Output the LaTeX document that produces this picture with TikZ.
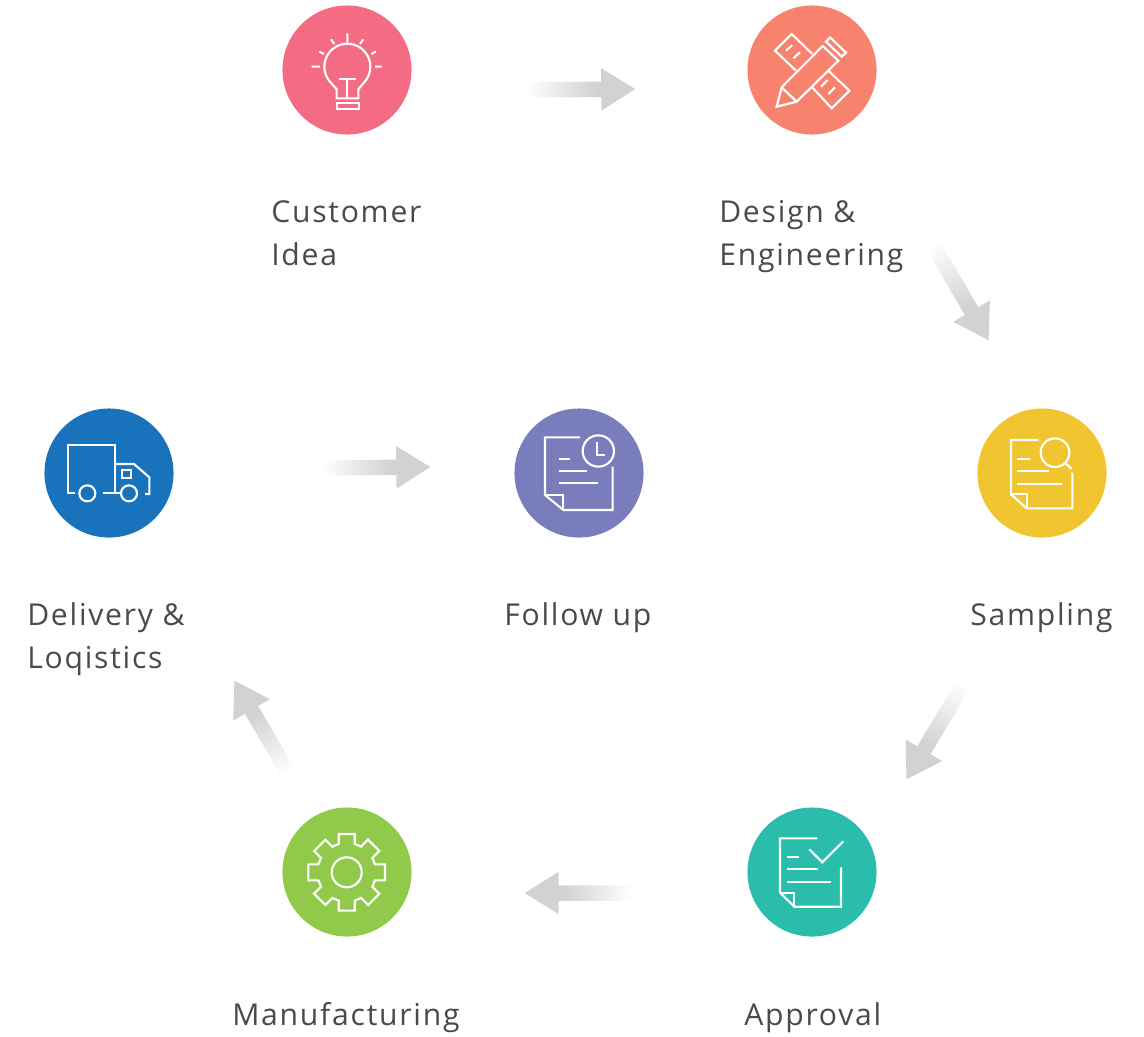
\documentclass[tikz,border=0pt]{standalone}
\usepackage{fontspec}
\setmainfont{Open Sans}[LetterSpace=5.8]
\usepackage{xcolor}
\usetikzlibrary{shapes.arrows}
\usetikzlibrary{calc}
\definecolor{ideapink}{HTML}{F36C84}
\definecolor{designsalmon}{HTML}{F7836F}
\definecolor{samplingyellow}{HTML}{F0C52F}
\definecolor{approvalteal}{HTML}{2ABDAB}
\definecolor{makinggreen}{HTML}{91CA4B}
\definecolor{deliveryblue}{HTML}{1872BC}
\definecolor{followpurple}{HTML}{797DBB}
\definecolor{labelgrey}{HTML}{4A4A4C}
\definecolor{arrowgrey}{HTML}{D0D2D3}
\pgfdeclarehorizontalshading{arrowfade}{100bp}{color(0bp)=(white); color(25bp)=(white); color(57bp)=(arrowgrey); color(100bp)=(arrowgrey)}
\tikzset{
  stepdot/.style={circle,minimum size=96.8pt,inner sep=0pt,outer sep=0pt},
  steptext/.style={text=labelgrey,anchor=north west,align=left,inner sep=0pt,font=\fontsize{22.6}{32.2}\selectfont},
  iconline/.style={draw=white,line width=1.6pt,x=.25pt,y=-.25pt},
  fadearrow/.style={single arrow,shade,shading=arrowfade,draw=none,inner xsep=0pt,inner ysep=5.6pt,outer sep=0pt,
    minimum width=31.5pt,single arrow head extend=10.1pt,single arrow tip angle=64,single arrow head indent=0pt}
}
\newcommand{\flowarrow}[2]{%
\path let \p1=($(#2)-(#1)$), \n1={atan2(\y1,\x1)}, \n2={veclen(\x1,\y1)} in
  \pgfextra{\xdef\arrowang{\n1}\xdef\arrowlen{\n2}};
\begin{scope}[transform canvas={shift={($(#1)!.5!(#2)$)},rotate=\arrowang}]
\node[fadearrow,minimum height=\arrowlen] (#1#2) at (-5.2pt,0pt) {};
\end{scope}}
\begin{document}
\begin{tikzpicture}[x=.75pt,y=-.75pt]
\useasboundingbox (0,0) rectangle (1144,1036);
% steps
\node[stepdot,fill=ideapink] (idea) at (347,70) {};
\node[stepdot,fill=designsalmon] (design) at (812,70) {};
\node[stepdot,fill=samplingyellow] (sampling) at (1042,473) {};
\node[stepdot,fill=approvalteal] (approval) at (812,872) {};
\node[stepdot,fill=makinggreen] (making) at (347,872) {};
\node[stepdot,fill=deliveryblue] (delivery) at (109,473) {};
\node[stepdot,fill=followpurple] (follow) at (579,473) {};
% labels
\node[steptext] (ideatext) at (271,200) {Customer\\Idea};
\node[steptext] (designtext) at (719,200) {Design \&\\Engineering};
\node[steptext] (samplingtext) at (970,602.5) {Sampling};
\node[steptext] (approvaltext) at (744,1002.5) {Approval};
\node[steptext] (makingtext) at (232,1002.5) {Manufacturing};
\node[steptext] (deliverytext) at (27,602.5) {Delivery \&\\Loqistics};
\node[steptext] (followtext) at (504,602.5) {Follow up};
% arrows
\coordinate (a1) at (527,90);   \coordinate (b1) at (636,89);
\coordinate (a2) at (933,245);  \coordinate (b2) at (989,341);
\coordinate (a3) at (963,685);  \coordinate (b3) at (906,780);
\coordinate (a4) at (631,893);  \coordinate (b4) at (524,893);
\coordinate (a5) at (288,772);  \coordinate (b5) at (234,680);
\coordinate (a6) at (323,468);  \coordinate (b6) at (431,467);
\foreach \k in {1,...,6} {\flowarrow{a\k}{b\k}}
% bulb
\begin{scope}[shift={(270,0)}]
\draw[iconline] (200,295)--(200,268)--(178,243) arc[start angle=141.5,end angle=398.5,radius=69]--(265,268)--(265,295)--cycle;
\draw[iconline] (200,308) rectangle (268,327);
\draw[iconline] (207,238)--(258,238) (232,238)--(232,295);
\draw[iconline] (232,100)--(232,128) (183,118)--(193,132) (280,118)--(270,132) (148,155)--(162,162) (318,155)--(304,162) (125,200)--(150,200) (315,200)--(335,200);
\end{scope}
% ruler and pencil
\begin{scope}[shift={(740,0)}]
\draw[iconline] (248,138)--(125,262)--(110,320)--(170,305)--(295,182)--cycle;
\draw[iconline] (125,262)--(170,305);
\draw[iconline] (258,125)--(270,112)--(318,158)--(305,170)--cycle;
\draw[iconline] (168,212)--(105,152)--(155,102)--(217,162);
\draw[iconline] (265,212)--(328,272)--(275,325)--(217,262);
\draw[iconline] (138,152)--(157,135) (160,175)--(180,157) (243,260)--(263,240) (265,282)--(285,262);
\end{scope}
% page and magnifier
\begin{scope}[shift={(965,400)}]
\draw[iconline] (220,120)--(138,120)--(138,283)--(185,325)--(322,325)--(322,218);
\draw[iconline] (138,283)--(185,283)--(185,325);
\draw[iconline] (157,176)--(195,176) (157,214)--(252,214) (157,253)--(290,253);
\draw[iconline] (270,158) circle (43);
\draw[iconline] (302,190)--(320,207);
\end{scope}
% page and tick
\begin{scope}[shift={(740,800)}]
\draw[iconline] (232,115)--(120,115)--(120,278)--(163,320)--(303,320)--(303,202);
\draw[iconline] (120,278)--(163,278)--(163,320);
\draw[iconline] (140,170)--(177,170) (140,208)--(235,208) (140,246)--(273,246);
\draw[iconline] (208,148)--(247,187)--(310,124);
\end{scope}
% gear
\begin{scope}[shift={(346.7,872.3)}]
\draw[iconline] (0,0) circle (45);
\draw[iconline] (-24,-115)--(24,-115)--(24,-85)--(43,-77)--(64,-98)--(98,-64)--(77,-43)--(85,-24)--(115,-24)--(115,24)--(85,24)--(77,43)--(98,64)--(64,98)--(43,77)--(24,85)--(24,115)--(-24,115)--(-24,85)--(-43,77)--(-64,98)--(-98,64)--(-77,43)--(-85,24)--(-115,24)--(-115,-24)--(-85,-24)--(-77,-43)--(-98,-64)--(-64,-98)--(-43,-77)--(-24,-85)--cycle;
\end{scope}
% truck
\begin{scope}[shift={(30,400)}]
\draw[iconline] (135,280)--(115,280)--(115,135)--(255,135)--(255,280)--(218,280);
\draw[iconline] (255,192)--(312,192)--(358,232)--(358,282)--(345,282);
\draw[iconline] (255,280)--(272,280);
\draw[iconline] (172,280) circle (24);
\draw[iconline] (297,280) circle (24);
\draw[iconline] (275,210) rectangle (302,235);
\end{scope}
% page and clock
\begin{scope}[shift={(505,400)}]
\draw[iconline] (225,112)--(120,112)--(120,285)--(175,330)--(323,330)--(323,200);
\draw[iconline] (120,285)--(175,285)--(175,330);
\draw[iconline] (162,176)--(195,176) (162,212)--(245,212) (162,248)--(280,248);
\draw[iconline] (280,153) circle (47);
\draw[iconline] (277,125)--(277,165)--(300,165);
\end{scope}
\end{tikzpicture}
\end{document}
